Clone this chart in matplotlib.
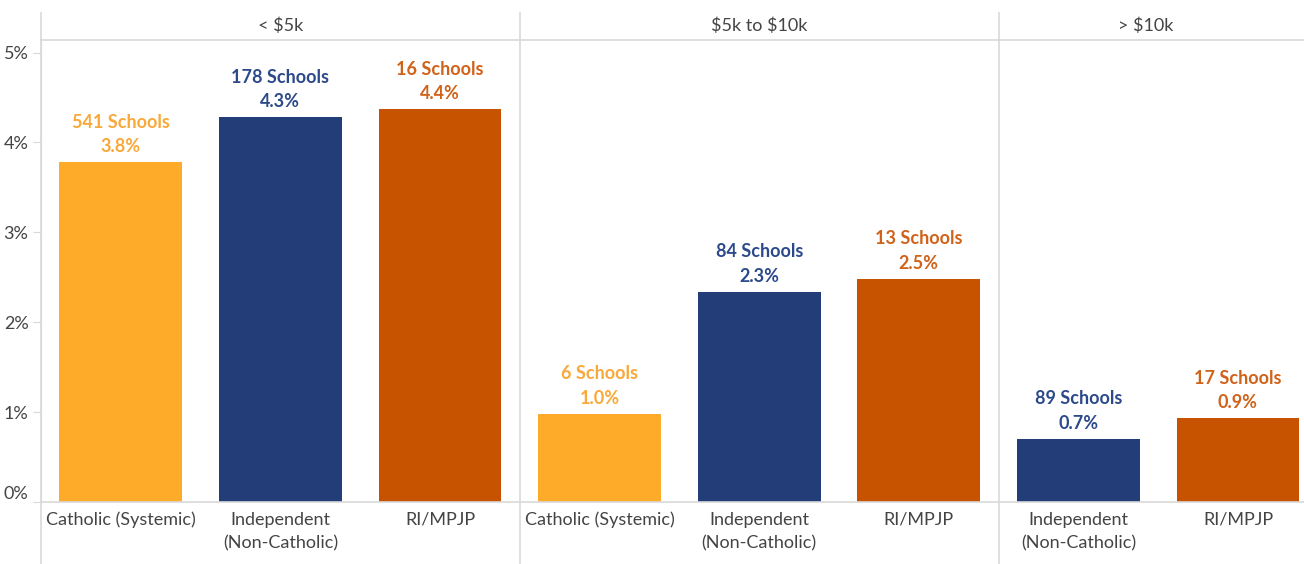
import matplotlib.pyplot as plt

# data
groups = ['< \\$5k', '\\$5k to \\$10k', '> \\$10k']
group_cats = [
    ['Catholic (Systemic)', 'Independent\n(Non-Catholic)', 'RI/MPJP'],
    ['Catholic (Systemic)', 'Independent\n(Non-Catholic)', 'RI/MPJP'],
    ['Independent\n(Non-Catholic)', 'RI/MPJP'],
]
values = [3.78, 4.28, 4.37, 0.98, 2.34, 2.48, 0.70, 0.93]
schools = [541, 178, 16, 6, 84, 13, 89, 17]
shown = ['3.8%', '4.3%', '4.4%', '1.0%', '2.3%', '2.5%', '0.7%', '0.9%']

colors = {'Catholic (Systemic)': '#fdab29',
          'Independent\n(Non-Catholic)': '#233d78',
          'RI/MPJP': '#c75300'}
text_colors = {'Catholic (Systemic)': '#f9a83a',
               'Independent\n(Non-Catholic)': '#2c4a8a',
               'RI/MPJP': '#d0621a'}

plt.rcParams['font.family'] = ['Lato', 'DejaVu Sans']
FS = 13
W, H = 1304, 564
fig = plt.figure(figsize=(W / 100, H / 100), dpi=100)
ax = fig.add_axes([41 / W, (H - 502) / H, (W - 41) / W, (502 - 40) / H])

cats = [c for g in group_cats for c in g]
x = list(range(len(cats)))
ax.bar(x, values, width=0.77, color=[colors[c] for c in cats])

for xi, v, n, s, c in zip(x, values, schools, shown, cats):
    ax.annotate(f'{n} Schools\n{s}', (xi, v), xytext=(0, 5), textcoords='offset points',
                ha='center', va='bottom', fontsize=FS, fontweight='bold',
                color=text_colors[c], linespacing=1.55)

xmax = (W - 41) / 159.6 - 0.5
ax.set_xlim(-0.5, xmax)
ax.set_ylim(0, 5.14)

ax.set_xticks(x)
ax.set_xticklabels(cats, fontsize=FS, color='#444444', linespacing=1.55)
ax.tick_params(axis='x', length=0, pad=7)
ax.set_yticks([0, 1, 2, 3, 4, 5])
ax.set_yticklabels([f'{i}%' for i in range(6)], fontsize=FS, color='#444444')
ax.tick_params(axis='y', length=6, color='#d9d9d9', pad=3)
ax.get_yticklabels()[0].set_verticalalignment('bottom')

for sp in ['top', 'right', 'bottom']:
    ax.spines[sp].set_visible(False)
ax.spines['left'].set_color('#d9d9d9')
ax.spines['left'].set_bounds(0, 5.14)
ax.axhline(0, color='#d9d9d9', lw=1.2, clip_on=False)

# panel dividers and header band
tr = ax.get_xaxis_transform()
bottom = -(H - 502) / (502 - 40)
top = (502 - 13) / (502 - 40)
start = -0.5
for gi, g in enumerate(groups):
    end = start + len(group_cats[gi])
    ax.plot([start, start], [bottom, top], transform=tr, color='#d9d9d9', lw=1.2, clip_on=False)
    mid = (start + end) / 2 if gi < 2 else (start + end) / 2 - 0.08
    ax.text(mid, 1.03, g, transform=tr, ha='center', va='center', fontsize=FS, color='#444444')
    start = end
ax.plot([-0.5, xmax], [1, 1], transform=tr, color='#d9d9d9', lw=1.2, clip_on=False)

fig.savefig('out.png', dpi=100)
